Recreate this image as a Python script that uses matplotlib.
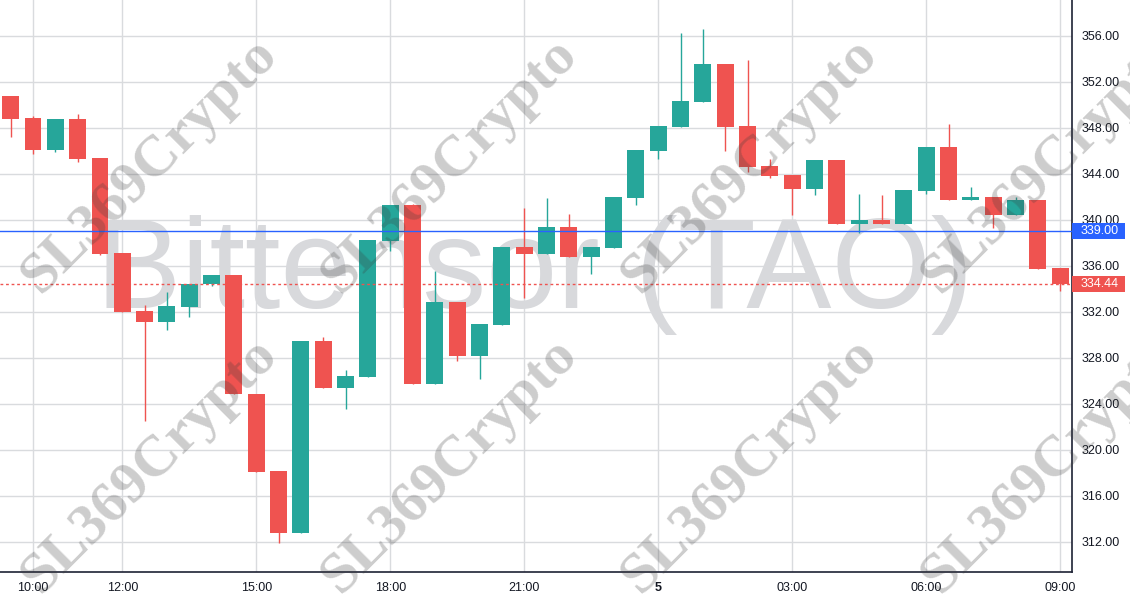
import matplotlib.pyplot as plt
import matplotlib.transforms as mtransforms
from matplotlib.patches import Rectangle

# 30 min candles, 9:30 -> 09:00 next day
opens = [350.78, 348.87, 346.09, 348.78, 345.39, 337.13, 332.09, 331.16, 332.46, 334.43,
         335.22, 324.87, 318.17, 312.81, 329.48, 325.42, 326.37, 338.17, 341.30, 325.77,
         332.84, 328.20, 330.87, 337.65, 337.07, 339.39, 336.81, 337.57, 341.94, 346.03,
         348.12, 350.29, 353.57, 348.17, 344.70, 343.91, 342.72, 345.22, 339.68, 340.00,
         339.68, 342.55, 346.35, 341.77, 342.00, 340.46, 341.77, 335.83]
highs = [350.78, 349.07, 348.78, 349.24, 345.39, 337.13, 332.61, 333.74, 334.40, 335.22,
         335.22, 324.87, 318.17, 329.48, 329.85, 326.96, 338.26, 341.30, 341.39, 335.57,
         332.84, 330.96, 337.65, 341.02, 341.89, 340.52, 337.65, 342.00, 346.09, 348.17,
         356.29, 356.61, 353.57, 353.91, 345.30, 343.91, 345.22, 345.22, 342.26, 342.17,
         342.61, 346.35, 348.35, 342.84, 342.00, 342.00, 341.77, 335.83]
lows = [347.24, 345.77, 345.94, 345.07, 336.96, 332.03, 322.55, 330.46, 331.59, 334.29,
        324.84, 318.11, 311.94, 312.81, 325.42, 323.57, 326.37, 337.33, 325.77, 325.77,
        327.74, 326.17, 330.87, 333.19, 337.07, 336.81, 335.33, 337.57, 341.30, 345.33,
        348.12, 350.29, 346.03, 344.20, 343.68, 340.43, 342.17, 339.68, 338.84, 339.68,
        339.68, 342.23, 341.77, 341.77, 339.33, 340.46, 335.77, 333.85]
closes = [348.81, 346.09, 348.78, 345.30, 337.07, 332.03, 331.16, 332.52, 334.40, 335.22,
          324.84, 318.11, 312.81, 329.48, 325.42, 326.43, 338.26, 341.30, 325.77, 332.84,
          328.20, 330.96, 337.65, 337.07, 339.39, 336.81, 337.65, 342.00, 346.09, 348.17,
          350.35, 353.57, 348.12, 344.64, 343.85, 342.72, 345.22, 339.68, 340.00, 339.68,
          342.61, 346.35, 341.77, 342.00, 340.46, 341.77, 335.77, 334.44]

tick_idx = [1, 5, 11, 17, 23, 29, 35, 41, 47]
tick_labels = ['10:00', '12:00', '15:00', '18:00', '21:00', '5', '03:00', '06:00', '09:00']
price_ticks = [312, 316, 320, 324, 328, 332, 336, 340, 344, 348, 352, 356]
blue_level = 339.00
last_price = 334.44
title = 'Bittensor (TAO)'
watermark = 'SL369Crypto'

UP = '#26a69a'
DOWN = '#ef5350'
BLUE = '#2962ff'
TXT = '#131722'
GRID = '#d9dbde'

plt.rcParams['font.family'] = ['Liberation Sans', 'DejaVu Sans']

fig = plt.figure(figsize=(11.3, 6), dpi=100)
ax = fig.add_axes([0, 28 / 600, 1072 / 1130, 572 / 600])

ax.set_xlim(-0.478, 47.53)
ax.set_ylim(309.39, 359.13)

# big title watermark, behind the candles
ax.text(535 / 1130, 1 - 308 / 600, title, transform=fig.transFigure, fontsize=92,
        color='#d8d9dc', ha='center', va='baseline', zorder=1, clip_on=False)

for i in range(len(opens)):
    o, h, l, c = opens[i], highs[i], lows[i], closes[i]
    col = UP if c >= o else DOWN
    ax.vlines(i, l, h, color=col, linewidth=1, zorder=3)
    body = max(abs(c - o), 0.1)
    ax.bar(i, body, bottom=min(o, c), width=0.76, color=col, linewidth=0, zorder=3)

ax.axhline(blue_level, color=BLUE, linewidth=1, zorder=4)
ax.axhline(last_price, color=DOWN, linewidth=1, linestyle=(0, (2, 2)), zorder=4)

ax.set_xticks(tick_idx)
ax.set_xticklabels(tick_labels)
for lab in ax.get_xticklabels():
    if lab.get_text() == '5':
        lab.set_fontweight('bold')
ax.set_yticks(price_ticks)
ax.set_yticklabels(['%.2f' % p for p in price_ticks])
ax.yaxis.tick_right()
ax.tick_params(axis='both', length=0, labelsize=9, colors=TXT)
ax.tick_params(axis='y', pad=7)
ax.tick_params(axis='x', pad=7)
ax.grid(True, color=GRID, linewidth=1)
ax.set_axisbelow(True)

for s in ['left', 'top']:
    ax.spines[s].set_visible(False)
for s in ['right', 'bottom']:
    ax.spines[s].set_color('#1e2235')
    ax.spines[s].set_linewidth(1.2)

# price labels on the right scale
trans = mtransforms.blended_transform_factory(ax.transAxes, ax.transData)
box_w = 53 / 1072
half_h = 8 / 11.5
for level, col in [(blue_level, BLUE), (last_price, DOWN)]:
    ax.add_patch(Rectangle((1.0, level - half_h), box_w, 2 * half_h, transform=trans,
                           facecolor=col, edgecolor='none', clip_on=False, zorder=6))
    ax.text(1.0 + 9 / 1072, level, '%.2f' % level, transform=trans, color='white',
            fontsize=9, ha='left', va='center', clip_on=False, zorder=7)

# diagonal watermarks
for cy in [165, 465]:
    for cx in [150, 450, 750, 1050]:
        fig.text(cx / 1130, 1 - cy / 600, watermark, rotation=45, fontsize=42,
                 family='Liberation Serif', fontweight='bold', color='#3c3c3c',
                 alpha=0.26, ha='center', va='center', rotation_mode='anchor', zorder=10)

fig.savefig('out.png', dpi=100)
